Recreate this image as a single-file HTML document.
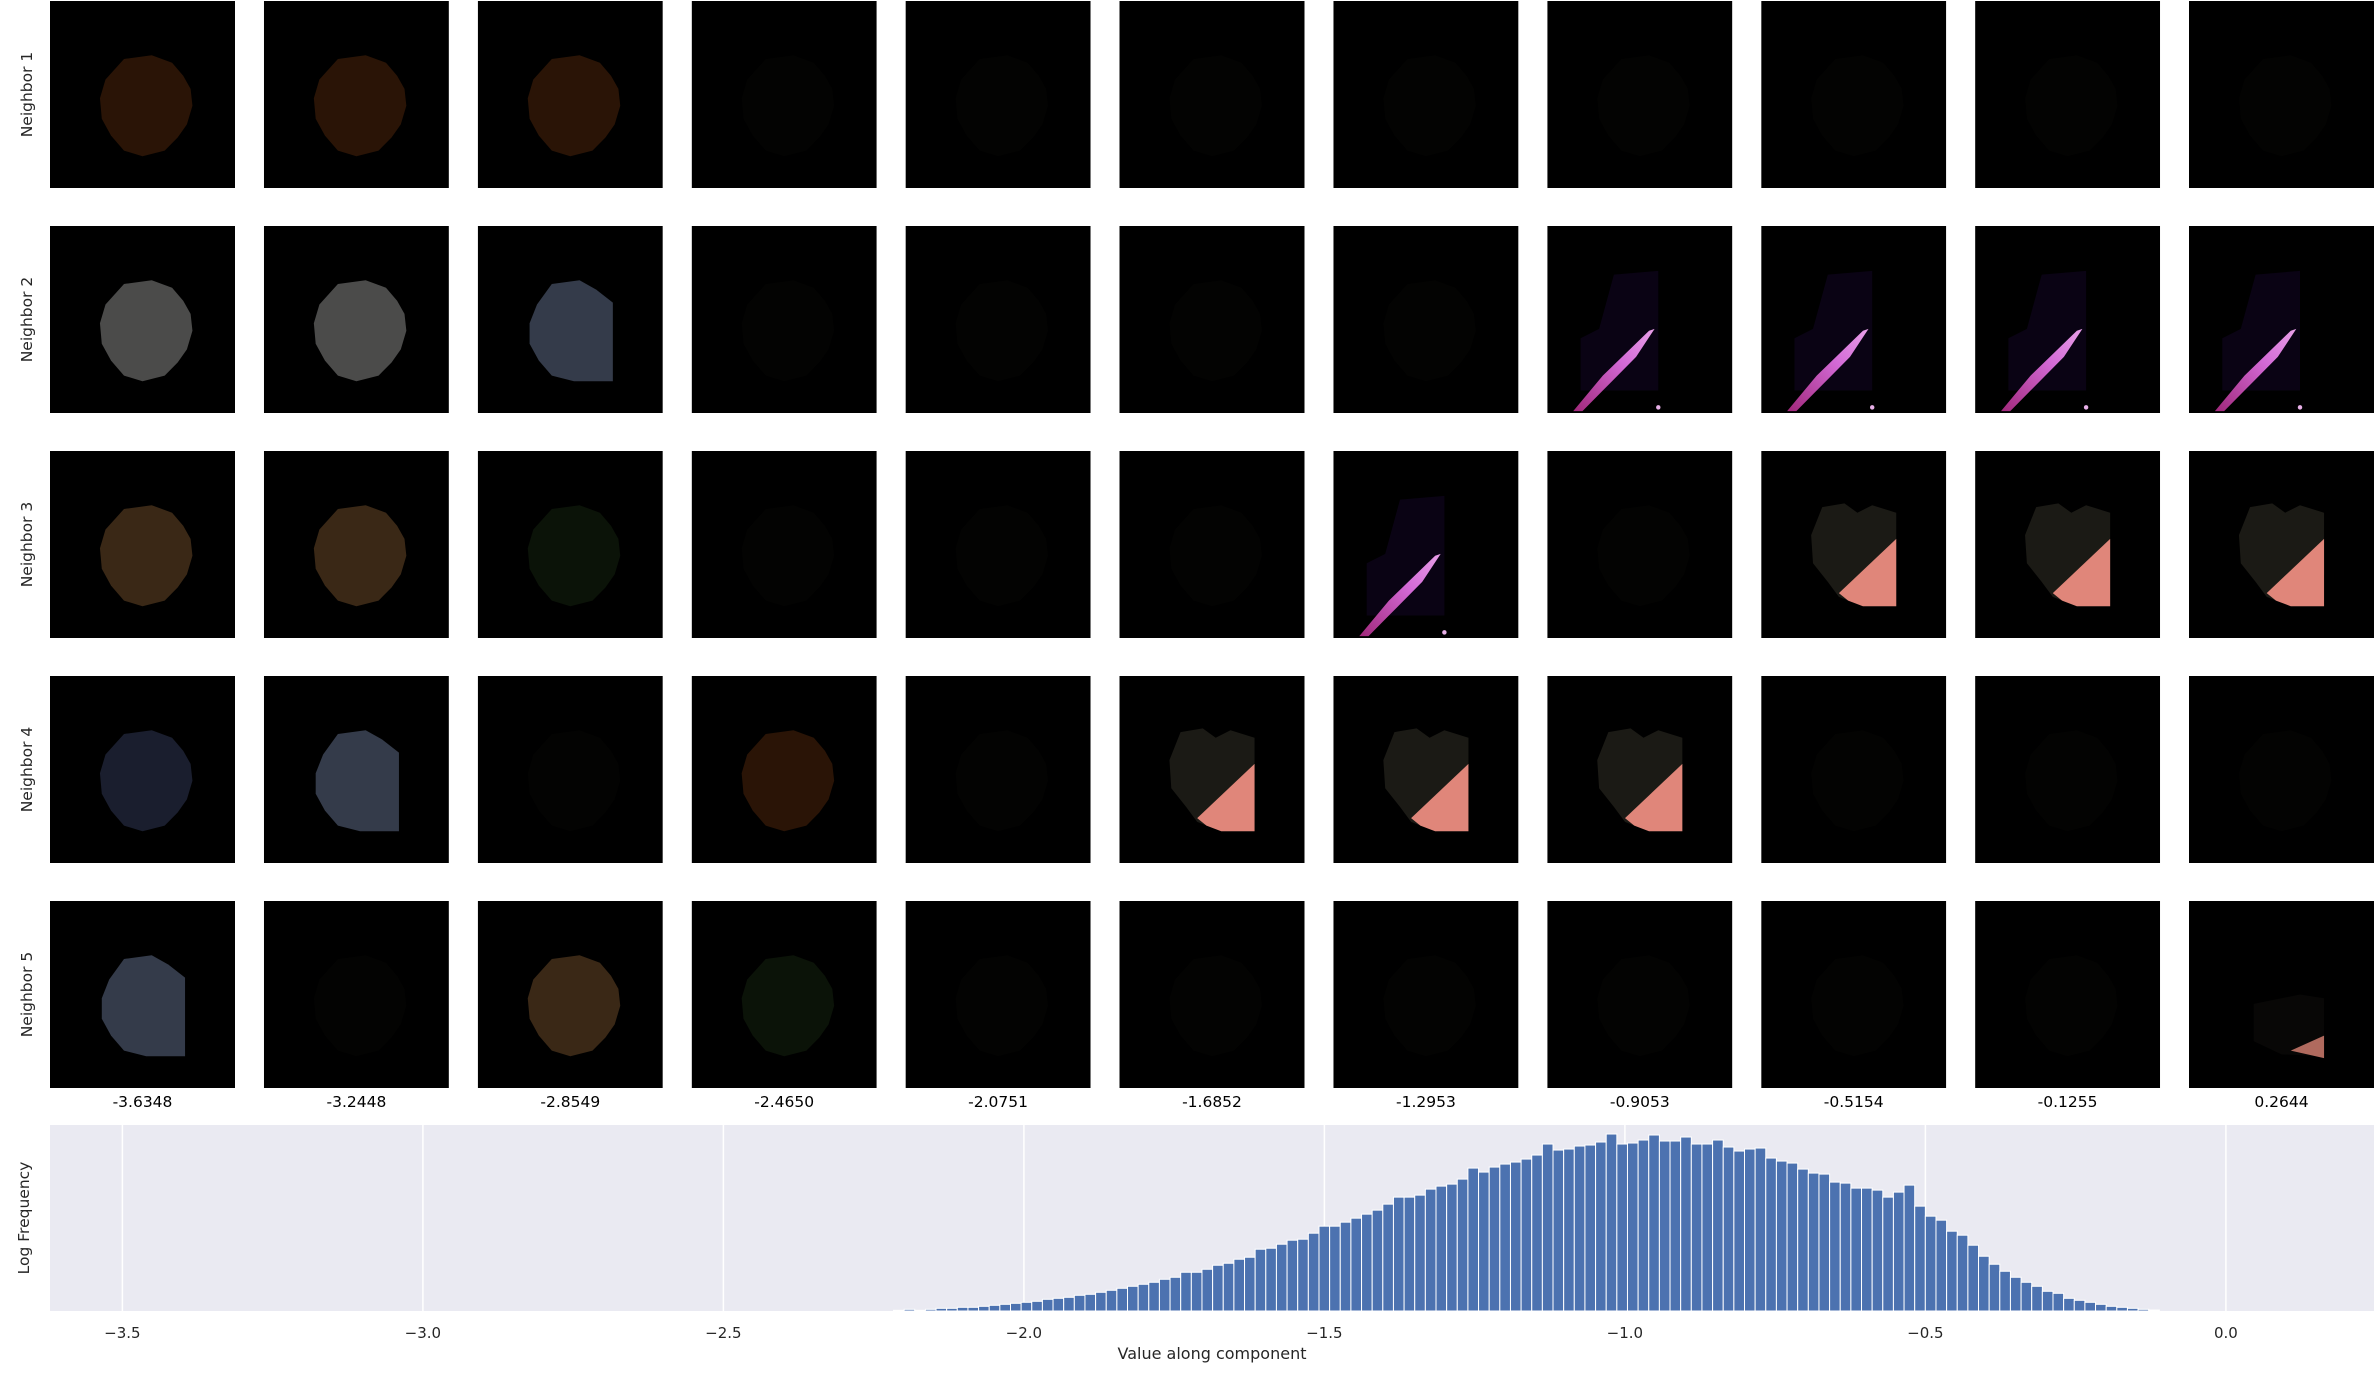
<!DOCTYPE html>
<html><head><meta charset="utf-8"><style>
html,body{margin:0;padding:0;background:#fff;width:2374px;height:1382px;overflow:hidden}
svg{display:block}
text{font-family:"DejaVu Sans","Liberation Sans",sans-serif}
</style></head><body>
<svg id="root" xmlns="http://www.w3.org/2000/svg" width="2374" height="1382" viewBox="0 0 2374 1382">
<defs>
<linearGradient id="streak" x1="0" y1="1" x2="1" y2="0"><stop offset="0" stop-color="#a0287a"/><stop offset="0.6" stop-color="#d36ad6"/><stop offset="1" stop-color="#e8a0e8"/></linearGradient>
</defs>
<g id="grid"></g>
<g id="hist"></g>
</svg>
<script>
// component values shown under each column
const columnValues = ["-3.6348","-3.2448","-2.8549","-2.4650","-2.0751","-1.6852","-1.2953","-0.9053","-0.5154","-0.1255","0.2644"];
const rowLabels = ["Neighbor 1","Neighbor 2","Neighbor 3","Neighbor 4","Neighbor 5"];
// thumbnail kinds per row
const row1Kinds = ["brown","brown","brown","dark","dark","dark","dark","dark","dark","dark","dark"];
const row2Kinds = ["grey","grey","bluehalf","dark","dark","dark","dark","streak","streak","streak","streak"];
const row3Kinds = ["tan","tan","green","dark","dark","dark","streak","dark","salmon","salmon","salmon"];
const row4Kinds = ["navy","bluehalf","dark","brown","dark","salmon","salmon","salmon","dark","dark","dark"];
const row5Kinds = ["bluehalf","dark","tan","green","dark","dark","dark","dark","dark","dark","edge"];
// histogram
const binStart = -2.217;
const binWidth = 0.0177;
const logFreq = [0.02,0.05,0.02,0.05,0.08,0.08,0.11,0.11,0.14,0.17,0.20,0.23,0.26,0.29,0.35,0.38,0.41,0.47,0.50,0.56,0.62,0.68,0.74,0.80,0.86,0.95,1.01,1.16,1.16,1.25,1.37,1.43,1.55,1.61,1.85,1.88,2.00,2.12,2.15,2.33,2.54,2.54,2.66,
2.78,2.90,3.02,3.20,3.41,3.41,3.47,3.65,3.74,3.80,3.95,4.28,4.16,4.31,4.40,4.46,4.55,4.67,5.00,4.82,4.85,4.94,4.97,5.06,5.30,5.00,5.03,5.12,5.27,5.09,5.09,5.21,5.00,5.00,5.12,4.91,4.79,4.85,4.88,4.58,4.49,4.43,4.25,4.13,4.10,3.86,3.83,3.68,
3.68,3.62,3.41,3.56,3.77,3.14,2.84,2.72,2.39,2.27,1.97,1.64,1.40,1.19,1.01,0.86,0.74,0.59,0.53,0.38,0.32,0.26,0.20,0.14,0.11,0.08,0.05,0.03];
const xTicks = [-3.5,-3.0,-2.5,-2.0,-1.5,-1.0,-0.5,0.0];
const xTickLabels = ["\u22123.5","\u22123.0","\u22122.5","\u22122.0","\u22121.5","\u22121.0","\u22120.5","0.0"];
const yMax = 5.57;

const NS = "http://www.w3.org/2000/svg";
function mk(tag, attrs, parent){const e=document.createElementNS(NS,tag);for(const k in attrs)e.setAttribute(k,attrs[k]);parent.appendChild(e);return e;}

const BLOB = "M40,31 L55,29 L66,33 L72,40 L76,47 L77,56 L74,66 L69,73 L62,80 L50,83 L40,80 L33,72 L28,63 L27,52 L30,42 Z";
const HALF = "M40,31 L55,29 L64,34 L73,41 L73,83 L52,83 L40,80 L33,72 L28,63 L28,52 L32,42 Z";
const HEART = "M33,30 L45,28 L52,33 L60,29 L73,33 L73,83 L55,83 L42,78 L36,70 L28,60 L27,45 Z";

const grid = document.getElementById('grid');
const allRows = [row1Kinds,row2Kinds,row3Kinds,row4Kinds,row5Kinds];
const cellW = 185, cellH = 187, x0 = 50, dx = 213.9, y0 = 1, dy = 225;
allRows.forEach((kinds, r) => {
  const lbl = mk('text',{x:0,y:0,transform:`translate(32,${y0+r*dy+cellH/2}) rotate(-90)`,'text-anchor':'middle','font-size':'15.5',fill:'#262626'},grid);
  lbl.textContent = rowLabels[r];
  
  
  kinds.forEach((k, c) => {
    const g = mk('svg',{x:x0+c*dx,y:y0+r*dy,width:cellW,height:cellH,viewBox:'0 0 100 100',preserveAspectRatio:'none'},grid);
    
    
    mk('rect',{x:0,y:0,width:100,height:100,fill:'#000'},g);
    if(k==='brown') mk('path',{d:BLOB,fill:'#2a1406'},g);
    else if(k==='tan') mk('path',{d:BLOB,fill:'#3a2816'},g);
    else if(k==='grey') mk('path',{d:BLOB,fill:'#4b4b4a'},g);
    else if(k==='navy') mk('path',{d:BLOB,fill:'#1a1e2e'},g);
    else if(k==='green') mk('path',{d:BLOB,fill:'#0b1308'},g);
    else if(k==='bluehalf') mk('path',{d:HALF,fill:'#343b4a'},g);
    else if(k==='dark') mk('path',{d:BLOB,fill:'#030302'},g);
    else if(k==='salmon'){
      mk('path',{d:HEART,fill:'#1b1a15'},g);
      mk('path',{d:"M73,47 L42,76 L47,80 L55,83 L73,83 Z",fill:'#e0867a'},g);
    } else if(k==='streak'){
      mk('path',{d:"M36,26 L60,24 L60,88 L18,88 L18,60 L28,55 Z",fill:'#0a0314'},g);
      mk('path',{d:"M14,99 L30,80 L55,56 L58,55 L48,70 L30,88 L19,99 Z",fill:'url(#streak)'},g);
      mk('circle',{cx:60,cy:97,r:1.2,fill:'#e8b0e8'},g);
    } else if(k==='edge'){
      mk('path',{d:"M35,55 L50,52 L60,50 L73,52 L73,83 L50,82 L35,75 Z",fill:'#080706'},g);
      mk('path',{d:"M73,72 L55,80 L73,84 Z",fill:'#b06a5e'},g);
    }
  });
});
columnValues.forEach((v, c) => {
  const t = mk('text',{x:x0+c*dx+cellW/2,y:1107,'text-anchor':'middle','font-size':'15.5',fill:'#000'},grid);
  t.textContent = v;
  
  
});

// histogram
const hist = document.getElementById('hist');
const axL = 50, axR = 2374, axT = 1125, axB = 1311;
function xs(v){return 122.4 + (v + 3.5) * 601;}
function ys(v){return axB - v / yMax * (axB - axT);}
const bg = mk('rect',{x:axL,y:axT,width:axR-axL,height:axB-axT,fill:'#eaeaf2'},hist);


xTicks.forEach((v,i)=>{
  const l = mk('line',{x1:xs(v),x2:xs(v),y1:axT,y2:axB,stroke:'#fff','stroke-width':1.5},hist);
  
  
  const t = mk('text',{x:xs(v),y:1338,'text-anchor':'middle','font-size':'15',fill:'#262626'},hist);
  t.textContent = xTickLabels[i];
  
  
});
logFreq.forEach((h,i)=>{
  const a = binStart + i*binWidth, b = a + binWidth;
  const r = mk('rect',{x:xs(a),y:ys(h),width:xs(b)-xs(a),height:ys(0)-ys(h),fill:'#4c72b0',stroke:'#fff','stroke-width':1},hist);
  
  
});
const xl = mk('text',{x:1212,y:1359,'text-anchor':'middle','font-size':'16',fill:'#262626'},hist);
xl.textContent = 'Value along component';


const yl = mk('text',{x:0,y:0,transform:'translate(29,1218) rotate(-90)','text-anchor':'middle','font-size':'15.5',fill:'#262626'},hist);
yl.textContent = 'Log Frequency';


</script>
</body></html>
